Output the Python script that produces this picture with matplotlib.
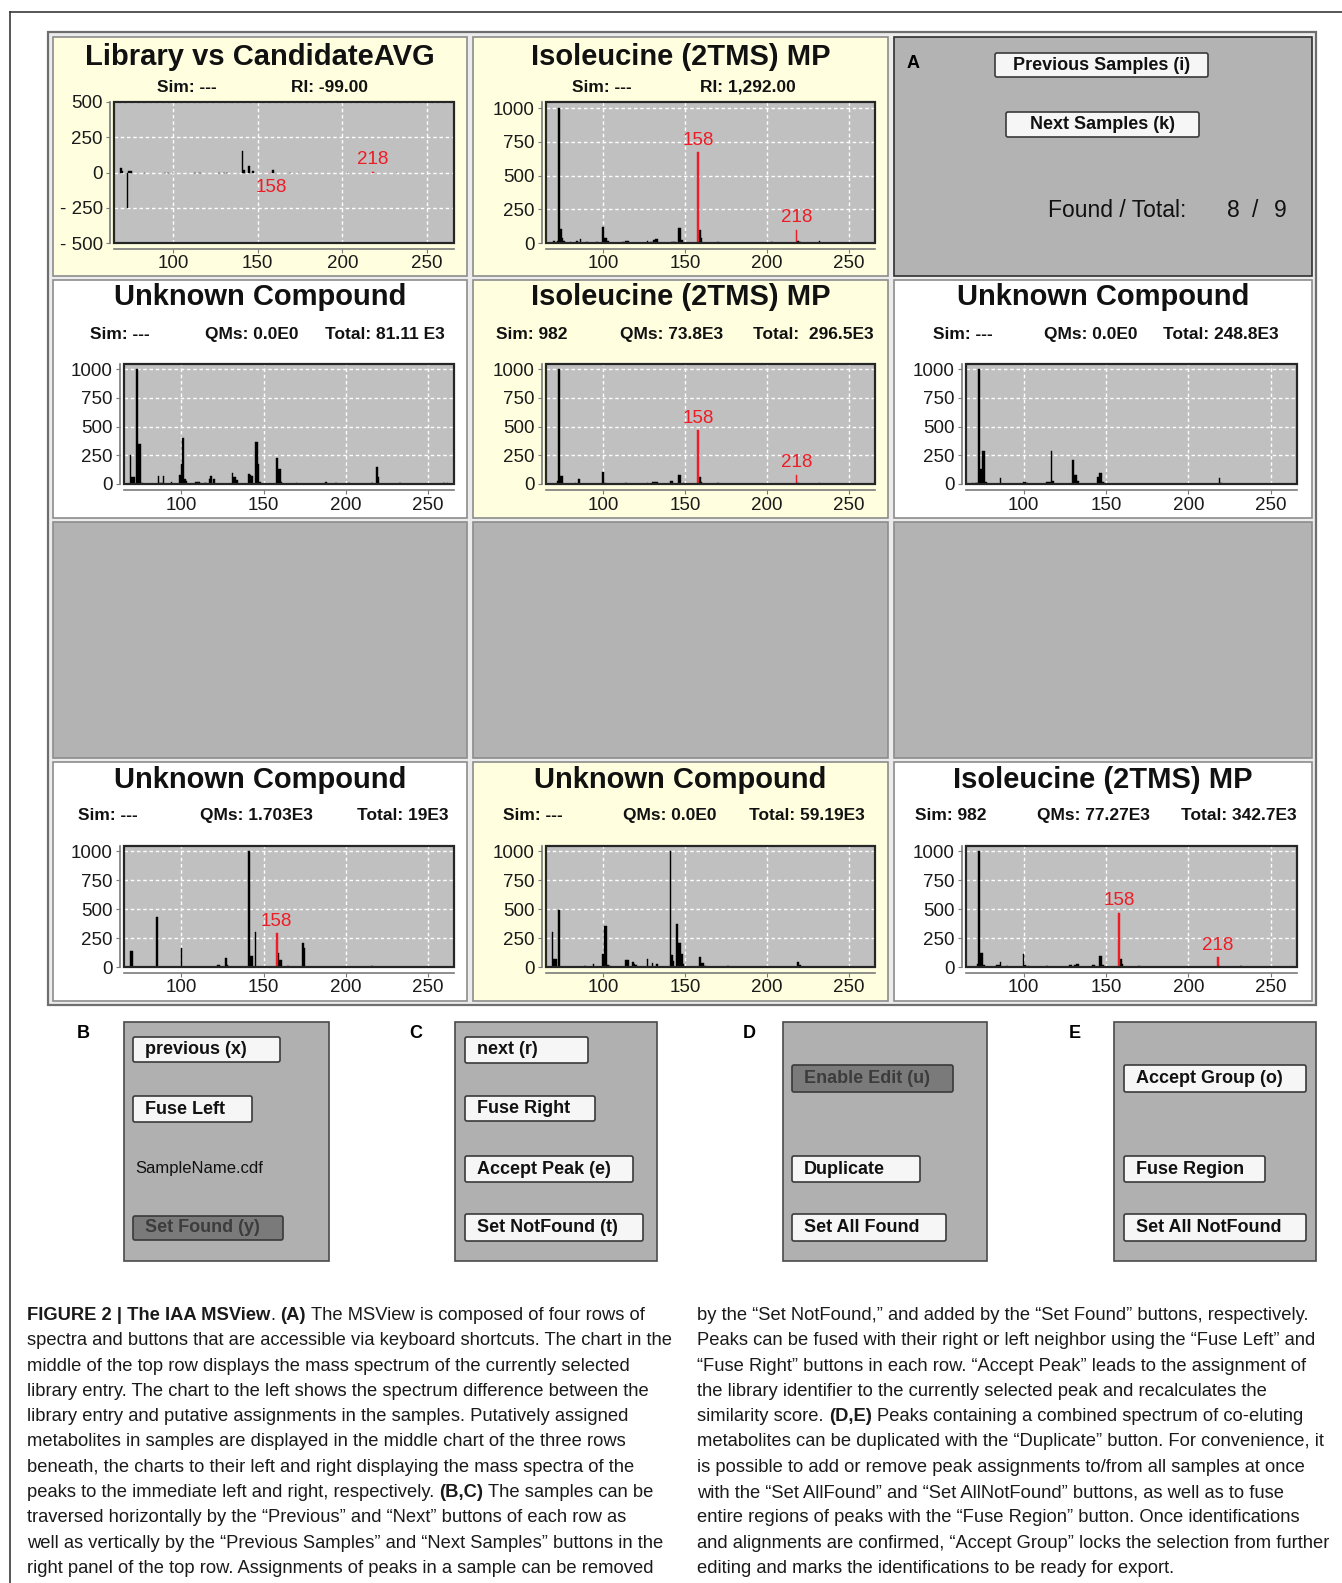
import matplotlib
matplotlib.use("Agg")
import matplotlib.pyplot as plt
from matplotlib.patches import Rectangle, FancyBboxPatch
from matplotlib.ticker import FuncFormatter

W, H = 1342, 1583

# ---- spectra (m/z, relative intensity) ----
DIFF_MZ = [69, 70, 73, 74, 75, 83, 95, 97, 100, 113, 115, 116, 127, 130, 132,
           141, 142, 145, 147, 159, 169, 174, 203, 232]
DIFF_INT = [30, 8, -255, 10, 8, -4, -4, -4, -6, -4, -4, -5, -3, -3, -4,
            155, 20, 45, 10, 18, -3, -3, -3, -5]
DIFF_RED_MZ = [158, 218]
DIFF_RED_INT = [-6, 4]

LIB_MZ = [70, 72, 73, 74, 75, 76, 80, 84, 86, 90, 96, 100, 101, 102, 103, 112,
          114, 115, 127, 129, 131, 132, 133, 142, 143, 144, 146, 147, 148, 159,
          160, 170, 203, 219, 220, 232]
LIB_INT = [15, 12, 1000, 105, 40, 15, 5, 12, 28, 8, 6, 118, 40, 40, 12, 10,
           15, 12, 15, 10, 25, 30, 28, 10, 10, 8, 110, 110, 25, 100,
           40, 5, 4, 18, 6, 15]
LIB_RED_MZ = [158, 218]
LIB_RED_INT = [674, 100]

U21_MZ = [69, 70, 71, 73, 74, 75, 76, 86, 87, 88, 89, 94, 99, 100, 101, 102,
          103, 109, 110, 111, 114, 115, 117, 118, 120, 131, 132, 133, 134, 141,
          142, 143, 145, 146, 147, 148, 158, 159, 160, 161, 170, 188, 194, 202,
          216, 219, 220, 233, 260, 262]
U21_INT = [255, 60, 60, 1000, 350, 350, 10, 70, 12, 10, 70, 20, 80, 175, 400, 45,
           30, 20, 20, 15, 10, 10, 45, 70, 45, 100, 60, 60, 35, 90,
           80, 70, 370, 370, 175, 20, 225, 130, 130, 20, 5, 15, 10, 8,
           8, 150, 65, 8, 10, 10]

S22_MZ = [72, 73, 74, 75, 83, 85, 100, 101, 114, 127, 130, 131, 132, 133, 141,
          142, 146, 147, 149, 159, 160, 170, 219, 232]
S22_INT = [25, 1000, 70, 70, 10, 45, 105, 10, 8, 8, 15, 15, 15, 15, 30,
           30, 80, 80, 10, 58, 15, 5, 10, 8]
S22_RED_MZ = [158, 218]
S22_RED_INT = [470, 80]

U23_MZ = [69, 71, 72, 73, 74, 75, 76, 77, 86, 100, 101, 102, 114, 115, 116, 117,
          118, 130, 131, 132, 133, 145, 146, 147, 148, 149, 219, 220]
U23_INT = [10, 10, 10, 1000, 130, 290, 290, 20, 50, 15, 15, 8, 20, 20, 20, 290,
           30, 210, 80, 80, 25, 60, 95, 95, 20, 5, 50, 8]

U41_MZ = [69, 70, 85, 100, 122, 123, 127, 128, 141, 142, 143, 145, 159, 160,
          161, 165, 174, 175, 216]
U41_INT = [140, 140, 430, 165, 15, 15, 75, 15, 1000, 95, 95, 300, 120, 60,
           60, 8, 210, 165, 10]
U41_RED_MZ = [158]
U41_RED_INT = [290]

U42_MZ = [69, 70, 71, 73, 89, 94, 100, 101, 102, 103, 104, 114, 115, 118, 119,
          120, 127, 130, 133, 141, 142, 143, 145, 146, 147, 148, 149, 159, 160,
          161, 162, 176, 219, 220]
U42_INT = [300, 70, 70, 490, 8, 30, 115, 350, 350, 20, 10, 60, 60, 45, 25,
           20, 70, 35, 25, 1000, 105, 50, 370, 210, 210, 110, 30, 85, 35,
           35, 8, 8, 45, 20]

S43_MZ = [72, 73, 74, 75, 76, 84, 85, 86, 90, 100, 101, 103, 114, 128, 129, 131,
          132, 133, 142, 143, 146, 147, 148, 159, 160, 170, 219, 232]
S43_INT = [30, 1000, 120, 120, 15, 15, 15, 45, 5, 115, 15, 8, 5, 15, 15, 15,
           25, 25, 15, 15, 95, 95, 15, 70, 25, 5, 10, 8]
S43_RED_MZ = [158, 218]
S43_RED_INT = [470, 85]

# ---- texts ----
TITLES = [["Library vs CandidateAVG", "Isoleucine (2TMS) MP", None],
          ["Unknown Compound", "Isoleucine (2TMS) MP", "Unknown Compound"],
          [None, None, None],
          ["Unknown Compound", "Unknown Compound", "Isoleucine (2TMS) MP"]]
SUBTITLES = [[["Sim: ---", "RI: -99.00"], ["Sim: ---", "RI: 1,292.00"], None],
             [["Sim: ---", "QMs: 0.0E0", "Total: 81.11 E3"],
              ["Sim: 982", "QMs: 73.8E3", "Total:  296.5E3"],
              ["Sim: ---", "QMs: 0.0E0", "Total: 248.8E3"]],
             [None, None, None],
             [["Sim: ---", "QMs: 1.703E3", "Total: 19E3"],
              ["Sim: ---", "QMs: 0.0E0", "Total: 59.19E3"],
              ["Sim: 982", "QMs: 77.27E3", "Total: 342.7E3"]]]

CAPTION_LEFT = [
    [("FIGURE 2 | The IAA MSView", True), (".", False), (" (A)", True),
     (" The MSView is composed of four rows of", False)],
    [("spectra and buttons that are accessible via keyboard shortcuts. The chart in the", False)],
    [("middle of the top row displays the mass spectrum of the currently selected", False)],
    [("library entry. The chart to the left shows the spectrum difference between the", False)],
    [("library entry and putative assignments in the samples. Putatively assigned", False)],
    [("metabolites in samples are displayed in the middle chart of the three rows", False)],
    [("beneath, the charts to their left and right displaying the mass spectra of the", False)],
    [("peaks to the immediate left and right, respectively.", False), (" (B,C)", True),
     (" The samples can be", False)],
    [("traversed horizontally by the \u201cPrevious\u201d and \u201cNext\u201d buttons of each row as", False)],
    [("well as vertically by the \u201cPrevious Samples\u201d and \u201cNext Samples\u201d buttons in the", False)],
    [("right panel of the top row. Assignments of peaks in a sample can be removed", False)],
]
CAPTION_RIGHT = [
    [("by the \u201cSet NotFound,\u201d and added by the \u201cSet Found\u201d buttons, respectively.", False)],
    [("Peaks can be fused with their right or left neighbor using the \u201cFuse Left\u201d and", False)],
    [("\u201cFuse Right\u201d buttons in each row. \u201cAccept Peak\u201d leads to the assignment of", False)],
    [("the library identifier to the currently selected peak and recalculates the", False)],
    [("similarity score.", False), (" (D,E)", True),
     (" Peaks containing a combined spectrum of co-eluting", False)],
    [("metabolites can be duplicated with the \u201cDuplicate\u201d button. For convenience, it", False)],
    [("is possible to add or remove peak assignments to/from all samples at once", False)],
    [("with the \u201cSet AllFound\u201d and \u201cSet AllNotFound\u201d buttons, as well as to fuse", False)],
    [("entire regions of peaks with the \u201cFuse Region\u201d button. Once identifications", False)],
    [("and alignments are confirmed, \u201cAccept Group\u201d locks the selection from further", False)],
    [("editing and marks the identifications to be ready for export.", False)],
]

# ---- layout (pixels of the 1342x1583 page) ----
COL_X = [(53, 467), (473, 888), (894, 1312)]
ROW_Y = [(37, 276), (280, 518), (522, 758), (762, 1001)]
YELLOW, WHITE, GRAY = "#FFFFE0", "#FFFFFF", "#B3B3B3"
CELL_BG = [[YELLOW, YELLOW, GRAY], [WHITE, YELLOW, WHITE],
           [GRAY, GRAY, GRAY], [WHITE, YELLOW, WHITE]]
AX_Y = {0: (102, 243), 1: (364, 484), 3: (846, 967)}
AX_X = [(124, 454), (546, 875), (966, 1297)]
TITLE_Y = {0: 57, 1: 297, 3: 780}
SUB_Y = {0: 87, 1: 334, 3: 815}
SUB_X = {(0, 0): [157, 291], (0, 1): [572, 700],
         (1, 0): [90, 205, 325], (1, 1): [496, 620, 753], (1, 2): [933, 1044, 1163],
         (3, 0): [78, 200, 357], (3, 1): [503, 623, 749], (3, 2): [915, 1037, 1181]}

PLOT_BG = "#C0C0C0"
RED = "#EE1C24"
SANS = "Liberation Sans"
CAP_FONT = "Liberation Sans"

plt.rcParams["font.family"] = [SANS, "DejaVu Sans"]

fig = plt.figure(figsize=(W / 100, H / 100), dpi=100)
fig.patch.set_facecolor("white")
bg = fig.add_axes([0, 0, 1, 1])
bg.set_xlim(0, W)
bg.set_ylim(H, 0)
bg.axis("off")
renderer = fig.canvas.get_renderer()

# page border
bg.plot([10, W], [12, 12], color="#3A3A3A", lw=1.2)
bg.plot([10, 10], [12, H], color="#3A3A3A", lw=1.2)

# outer frame of the view
bg.add_patch(Rectangle((48, 32), 1268, 973, facecolor="#ECECEC", edgecolor="#6E6E6E", lw=1.6))
for r, (y0, y1) in enumerate(ROW_Y):
    for c, (x0, x1) in enumerate(COL_X):
        edge = "#303030" if (r, c) == (0, 2) else "#8C8C8C"
        bg.add_patch(Rectangle((x0, y0), x1 - x0, y1 - y0, facecolor=CELL_BG[r][c],
                               edgecolor=edge, lw=1.2))


def fmt_y(v, pos):
    if v < 0:
        return f"- {abs(v):g}"
    return f"{v:g}"


def draw_spectrum(box, mz, inten, red_mz=(), red_int=(), diff=False):
    l, t, r, b = box
    ax = fig.add_axes([l / W, 1 - b / H, (r - l) / W, (b - t) / H])
    ax.set_facecolor(PLOT_BG)
    ax.bar(mz, inten, width=1.0, color="black", edgecolor="black", linewidth=0.3, zorder=3)
    if len(red_mz):
        ax.bar(red_mz, red_int, width=1.0, color=RED, edgecolor=RED, linewidth=0.3, zorder=4)
    for m, v in zip(red_mz, red_int):
        up = v >= 0
        ax.annotate(str(m), (m, v), xytext=(0, 2.5 if up else -4), textcoords="offset points",
                    ha="center", va="bottom" if up else "top", color=RED, fontsize=13.5,
                    zorder=6)
    ax.set_xlim(65, 266)
    if diff:
        ax.set_ylim(-500, 500)
        ax.set_yticks([-500, -250, 0, 250, 500])
    else:
        ax.set_ylim(0, 1045)
        ax.set_yticks([0, 250, 500, 750, 1000])
    ax.yaxis.set_major_formatter(FuncFormatter(fmt_y))
    ax.set_xticks([100, 150, 200, 250])
    ax.grid(True, color="white", linestyle=(0, (2.5, 2)), linewidth=1)
    ax.set_axisbelow(True)
    for s in ["top", "right"]:
        ax.spines[s].set_visible(False)
    ax.spines["left"].set_position(("outward", 3))
    ax.spines["bottom"].set_position(("outward", 4))
    for s in ["left", "bottom"]:
        ax.spines[s].set_color("#7A7A7A")
        ax.spines[s].set_linewidth(1.2)
    ax.tick_params(length=3, width=0.8, color="#7A7A7A", labelsize=13.5,
                   labelcolor="#1A1A1A", pad=2)
    ax.add_patch(Rectangle((0, 0), 1, 1, transform=ax.transAxes, fill=False,
                           edgecolor="#262626", lw=1.6, zorder=5, clip_on=False))
    return ax


spectra = {
    (0, 0): (DIFF_MZ, DIFF_INT, DIFF_RED_MZ, DIFF_RED_INT, True),
    (0, 1): (LIB_MZ, LIB_INT, LIB_RED_MZ, LIB_RED_INT, False),
    (1, 0): (U21_MZ, U21_INT, [], [], False),
    (1, 1): (S22_MZ, S22_INT, S22_RED_MZ, S22_RED_INT, False),
    (1, 2): (U23_MZ, U23_INT, [], [], False),
    (3, 0): (U41_MZ, U41_INT, U41_RED_MZ, U41_RED_INT, False),
    (3, 1): (U42_MZ, U42_INT, [], [], False),
    (3, 2): (S43_MZ, S43_INT, S43_RED_MZ, S43_RED_INT, False),
}

for (r, c), (mz, inten, rmz, rint, diff) in spectra.items():
    x0, x1 = COL_X[c]
    bg.text((x0 + x1) / 2, TITLE_Y[r], TITLES[r][c], ha="center", va="center",
            fontsize=21, fontweight="bold", color="#111111")
    for sx, s in zip(SUB_X[(r, c)], SUBTITLES[r][c]):
        bg.text(sx, SUB_Y[r], s, ha="left", va="center", fontsize=12.5,
                fontweight="bold", color="#111111")
    ax_l, ax_r = AX_X[c]
    if (r, c) == (0, 0):
        ax_l = 114
    ax_t, ax_b = AX_Y[r]
    draw_spectrum((ax_l, ax_t, ax_r, ax_b), mz, inten, rmz, rint, diff)


def button(x0, y0, x1, y1, label, disabled=False, center=False):
    face = "#7A7A7A" if disabled else "#F6F6F6"
    bg.add_patch(FancyBboxPatch((x0, y0), x1 - x0, y1 - y0,
                                boxstyle="round,pad=0,rounding_size=2",
                                facecolor=face, edgecolor="#3A3A3A", lw=1.2))
    tx = (x0 + x1) / 2 if center else x0 + 12
    bg.text(tx, (y0 + y1) / 2, label, ha="center" if center else "left", va="center",
            fontsize=13, fontweight="bold", color="#3C3C3C" if disabled else "#111111")


# panel A (top right)
bg.text(913, 63, "A", ha="center", va="center", fontsize=13, fontweight="bold")
button(995, 53, 1208, 77, "Previous Samples (i)", center=True)
button(1006, 112, 1199, 137, "Next Samples (k)", center=True)
bg.text(1048, 210, "Found / Total:", ha="left", va="center", fontsize=16.5, color="#111111")
bg.text(1233, 210, "8", ha="center", va="center", fontsize=16.5, color="#111111")
bg.text(1255, 210, "/", ha="center", va="center", fontsize=16.5, color="#111111")
bg.text(1280, 210, "9", ha="center", va="center", fontsize=16.5, color="#111111")

# bottom button panels B-E
PANEL_BOXES = {"B": (124, 1022, 329, 1261), "C": (455, 1022, 657, 1261),
               "D": (783, 1022, 987, 1261), "E": (1114, 1022, 1316, 1261)}
LETTER_X = {"B": 83, "C": 416, "D": 749, "E": 1075}
for key, (x0, y0, x1, y1) in PANEL_BOXES.items():
    bg.add_patch(Rectangle((x0, y0), x1 - x0, y1 - y0, facecolor="#B0B0B0",
                           edgecolor="#4A4A4A", lw=1.2))
    bg.text(LETTER_X[key], 1034, key, ha="center", va="center", fontsize=13, fontweight="bold")

button(133, 1037, 280, 1062, "previous (x)")
button(133, 1096, 252, 1122, "Fuse Left")
bg.text(135, 1168, "SampleName.cdf", ha="left", va="center", fontsize=12, color="#111111")
button(133, 1216, 283, 1240, "Set Found (y)", disabled=True)
button(465, 1037, 588, 1063, "next (r)")
button(465, 1096, 595, 1121, "Fuse Right")
button(465, 1156, 633, 1182, "Accept Peak (e)")
button(465, 1214, 643, 1241, "Set NotFound (t)")
button(792, 1065, 953, 1092, "Enable Edit (u)", disabled=True)
button(792, 1156, 920, 1182, "Duplicate")
button(792, 1214, 946, 1241, "Set All Found")
button(1124, 1065, 1306, 1092, "Accept Group (o)")
button(1124, 1156, 1265, 1182, "Fuse Region")
button(1124, 1214, 1306, 1241, "Set All NotFound")


# caption
def text_width(s, size, bold):
    t = bg.text(0, 0, s, fontsize=size, fontweight="bold" if bold else "normal", family=CAP_FONT)
    w = t.get_window_extent(renderer=renderer).width
    t.remove()
    return w


cap_size = 10 * 650 / text_width(CAPTION_LEFT[1][0][0], 10, False)
cap_size = min(cap_size, 14)


def put_line(x, y, runs):
    for txt, bold in runs:
        lead = len(txt) - len(txt.lstrip(" "))
        core = txt.strip(" ")
        sp = text_width("a a", cap_size, bold) - text_width("aa", cap_size, bold)
        x += lead * sp
        t = bg.text(x, y, core, ha="left", va="baseline", fontsize=cap_size,
                    fontweight="bold" if bold else "normal", family=CAP_FONT, color="#1A1A1A")
        x += t.get_window_extent(renderer=renderer).width


for i, runs in enumerate(CAPTION_LEFT):
    put_line(27, 1320 + i * 25.3, runs)
for i, runs in enumerate(CAPTION_RIGHT):
    put_line(697, 1320 + i * 25.3, runs)

fig.savefig("out.png", dpi=100)
